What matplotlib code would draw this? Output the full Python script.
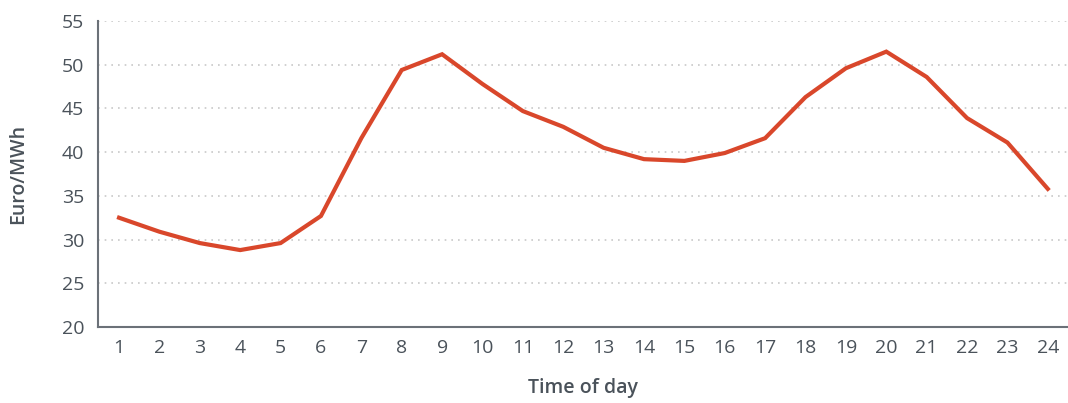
import numpy as np
import matplotlib.pyplot as plt

hours = list(range(1, 25))
price = [32.5, 30.9, 29.6, 28.8, 29.6, 32.7, 41.6, 49.4, 51.2, 47.8, 44.7, 42.9,
         40.5, 39.2, 39.0, 39.9, 41.6, 46.3, 49.6, 51.5, 48.6, 43.9, 41.1, 35.8]
y_ticks = [20, 25, 30, 35, 40, 45, 50, 55]

TEXT = "#4a525a"
AXIS = "#6b7178"
LINE = "#d9472b"

plt.rcParams["font.family"] = ["Open Sans", "DejaVu Sans"]

fig = plt.figure(figsize=(10.68, 4.03), dpi=100)
ax = fig.add_axes([0.0918, 0.1886, 0.9082, 0.7592])

ax.plot(hours, price, color=LINE, lw=3, solid_joinstyle="miter", zorder=3)

ax.set_xlim(0.48, 24.5)
ax.set_ylim(20, 55)
ax.set_xticks(hours)
ax.set_yticks(y_ticks)
ax.tick_params(axis="both", length=0, labelsize=14, colors=TEXT)
ax.tick_params(axis="x", pad=9)
ax.tick_params(axis="y", pad=10)

ax.grid(axis="y", linestyle=(0, (1, 3)), color="#c8c8c8", lw=1.2)
ax.set_axisbelow(True)

for s in ["top", "right"]:
    ax.spines[s].set_visible(False)
for s in ["left", "bottom"]:
    ax.spines[s].set_color(AXIS)
    ax.spines[s].set_linewidth(1.5)

ax.set_xlabel("Time of day", fontsize=14, color=TEXT, fontweight="semibold", labelpad=15)
ax.set_ylabel("Euro/MWh", fontsize=14, color=TEXT, fontweight="semibold", labelpad=24)

fig.savefig("out.png", dpi=100)
